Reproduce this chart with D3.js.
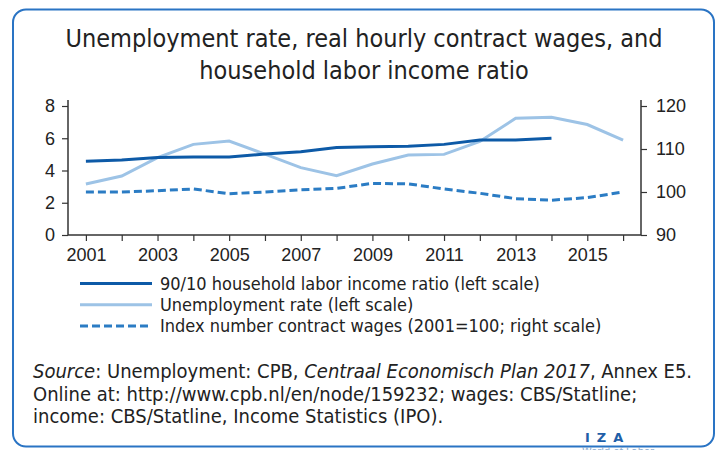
<!DOCTYPE html>
<html>
<head>
<meta charset="utf-8">
<script src="https://cdn.jsdelivr.net/npm/d3@7"></script>
<style>
  body { margin: 0; background: #fff; }
  svg { display: block; font-family: "Liberation Sans Narrow", "DejaVu Sans Condensed", "Arial Narrow", sans-serif; }
</style>
</head>
<body>
<div id="chart"></div>
<script>
// years on the x axis
const years = d3.range(2001, 2017);
const yearTicks = [2001, 2003, 2005, 2007, 2009, 2011, 2013, 2015];

// 90/10 household labor income ratio (left scale), 2001-2014
const incomeRatio = [4.57, 4.65, 4.8, 4.84, 4.84, 5.02, 5.17, 5.42, 5.48, 5.5, 5.62, 5.89, 5.89, 6.0];
// unemployment rate (left scale), 2001-2016
const unemployment = [3.16, 3.66, 4.8, 5.62, 5.83, 5.02, 4.18, 3.68, 4.4, 4.96, 5.0, 5.8, 7.24, 7.3, 6.85, 5.89];
// index number contract wages (2001=100, right scale), 2001-2016
const wages = [100, 100, 100.3, 100.7, 99.6, 100, 100.5, 100.85, 102.0, 101.9, 100.7, 99.7, 98.45, 98.1, 98.7, 100];

const leftTicks = [0, 2, 4, 6, 8];
const rightTicks = [90, 100, 110, 120];

const width = 720, height = 450;
const plot = { left: 68, right: 641, top: 106, bottom: 235 };

const svg = d3.select("#chart").append("svg")
  .attr("width", width)
  .attr("height", height);

// rounded frame
svg.append("rect")
  .attr("x", 13).attr("y", 9.5)
  .attr("width", 701).attr("height", 437)
  .attr("rx", 13)
  .attr("fill", "none")
  .attr("stroke", "#2a74c4")
  .attr("stroke-width", 2);

// title
const title = svg.append("text")
  .attr("text-anchor", "middle")
  .attr("font-size", 25)
  .attr("fill", "#222");
title.append("tspan").attr("x", 364).attr("y", 47).text("Unemployment rate, real hourly contract wages, and");
title.append("tspan").attr("x", 364).attr("y", 79).text("household labor income ratio");

const x = d3.scalePoint()
  .domain(years)
  .range([plot.left, plot.right])
  .padding(0.5);

const yLeft = d3.scaleLinear().domain([0, 8]).range([plot.bottom, plot.top]);
const yRight = d3.scaleLinear().domain([90, 120]).range([plot.bottom, plot.top]);

const axisColor = "#333";

// x axis
const xAxis = svg.append("g")
  .attr("transform", `translate(0,${plot.bottom})`)
  .call(d3.axisBottom(x).tickSize(6).tickPadding(4)
    .tickFormat(d => yearTicks.includes(d) ? d : ""));
xAxis.select(".domain").attr("d", `M${plot.left},0H${plot.right}`);

// left axis
const yAxisL = svg.append("g")
  .attr("transform", `translate(${plot.left},0)`)
  .call(d3.axisLeft(yLeft).tickValues(leftTicks).tickSize(6).tickPadding(7));

// right axis
const yAxisR = svg.append("g")
  .attr("transform", `translate(${plot.right},0)`)
  .call(d3.axisRight(yRight).tickValues(rightTicks).tickSize(6).tickPadding(9));

svg.selectAll(".domain").attr("stroke", axisColor).attr("stroke-width", 1.5);
svg.selectAll(".tick line").attr("stroke", axisColor).attr("stroke-width", 1.2);
svg.selectAll(".tick text")
  .attr("font-family", null)
  .attr("font-size", 18)
  .attr("fill", "#222");
xAxis.selectAll(".tick text").attr("dy", "0.9em");
yAxisL.selectAll(".domain").attr("d", `M0,${plot.top - 6}V${plot.bottom}`);
yAxisR.selectAll(".domain").attr("d", `M0,${plot.top - 6}V${plot.bottom}`);

const series = [
  { name: "90/10 household labor income ratio (left scale)", values: incomeRatio, scale: yLeft, color: "#0d5aa7", dash: null },
  { name: "Unemployment rate (left scale)", values: unemployment, scale: yLeft, color: "#9dc3e6", dash: null },
  { name: "Index number contract wages (2001=100; right scale)", values: wages, scale: yRight, color: "#2b7cc4", dash: "8,4" }
];

// draw the lines (light line first so dark sits on top)
[series[1], series[2], series[0]].forEach(s => {
  const line = d3.line()
    .x((d, i) => x(years[i]))
    .y(d => s.scale(d));
  svg.append("path")
    .datum(s.values)
    .attr("fill", "none")
    .attr("stroke", s.color)
    .attr("stroke-width", 3)
    .attr("stroke-dasharray", s.dash)
    .attr("d", line);
});

// legend
const legend = svg.append("g");
series.forEach((s, i) => {
  const yy = 283.5 + i * 21.2;
  legend.append("line")
    .attr("x1", 80).attr("x2", 152)
    .attr("y1", yy).attr("y2", yy)
    .attr("stroke", s.color)
    .attr("stroke-width", 3)
    .attr("stroke-dasharray", s.dash);
  legend.append("text")
    .attr("x", 160).attr("y", yy + 6.5)
    .attr("font-size", 18)
    .attr("fill", "#222")
    .text(s.name);
});

// source note
const src = svg.append("text").attr("font-size", 20).attr("fill", "#222");
const l1 = src.append("tspan").attr("x", 33).attr("y", 378);
l1.append("tspan").attr("font-style", "italic").text("Source");
l1.append("tspan").text(": Unemployment: CPB, ");
l1.append("tspan").attr("font-style", "italic").text("Centraal Economisch Plan 2017");
l1.append("tspan").text(", Annex E5.");
src.append("tspan").attr("x", 33).attr("y", 400.5).text("Online at: http://www.cpb.nl/en/node/159232; wages: CBS/Statline;");
src.append("tspan").attr("x", 33).attr("y", 423).text("income: CBS/Statline, Income Statistics (IPO).");

// IZA logo
svg.append("text")
  .attr("x", 585).attr("y", 442)
  .attr("font-family", "DejaVu Sans, sans-serif")
  .attr("font-weight", "bold")
  .attr("font-size", 13)
  .attr("letter-spacing", 7)
  .attr("fill", "#1f5fa8")
  .text("IZA");
svg.append("text")
  .attr("x", 582).attr("y", 455)
  .attr("font-size", 11)
  .attr("fill", "#8aa9cc")
  .text("World of Labor");
</script>
</body>
</html>
